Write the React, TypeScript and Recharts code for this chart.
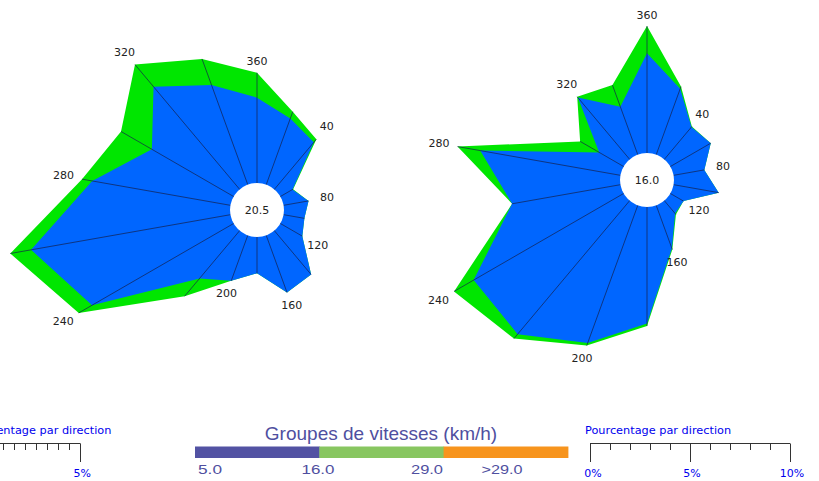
import React from 'react';
import { RadarChart, Radar, PolarAngleAxis, PolarRadiusAxis } from 'recharts';

// wind directions, clockwise from north
const directions = [360, 20, 40, 60, 80, 100, 120, 140, 160, 180, 200, 220, 240, 260, 280, 300, 320, 340];

// % per direction, speed group 5.0 - 16.0 km/h
const leftSlow = [3.88, 3.2, 2.79, 0.64, 1.15, 0.96, 1.15, 2.6, 2.76, 1.65, 2.2, 2.83, 7.43, 9.2, 6.38, 4.29, 6.09, 4.82];
// % per direction, speed group 16.0 - 29.0 km/h
const leftMid = [1.13, 0.33, 0.18, 0.03, 0, 0, 0, 0, 0, 0, 0, 1.06, 0.7, 0.96, 0.47, 1.62, 1.31, 1.26];
const leftCalm = '20.5';

const rightSlow = [4.99, 3.5, 2.11, 2.33, 1.56, 2.29, 0.76, 0.84, 2.29, 5.82, 7.32, 8.71, 8.66, 5.5, 7.12, 1.41, 4.03, 2.55];
const rightMid = [1.36, 0.12, 0.03, 0, 0, 0, 0, 0.06, 0.06, 0.13, 0.14, 0.29, 1.13, 0, 1.15, 1.1, 0.05, 1.15];
const rightCalm = '16.0';

const speedGroups = ['5.0', '16.0', '29.0', '>29.0'];
const speedColors = ['#5252a3', '#88c660', '#f7941d'];

const HOLE = 27;
const BLUE = '#0066ff';
const GREEN = '#00e600';

function buildRows(slow: number[], mid: number[]) {
  return directions.map((dir, i) => ({
    dir,
    slow: slow[i],
    total: slow[i] + mid[i],
  }));
}

function Spokes(props: any) {
  const { points, calm } = props;
  if (!points || !points.length) return null;
  const cx = points[0].cx;
  const cy = points[0].cy;
  return (
    <g>
      {points.map((p: any, i: number) => (
        <line key={'s' + i} x1={cx} y1={cy} x2={p.x} y2={p.y} stroke="#14204a" strokeWidth={0.7} />
      ))}
      <circle cx={cx} cy={cy} r={HOLE} fill="#fff" />
      <text
        x={cx}
        y={cy}
        textAnchor="middle"
        dominantBaseline="central"
        fontFamily="DejaVu Sans"
        fontSize={11}
        fill="#222"
      >
        {calm}
      </text>
      {points.map((p: any, i: number) => {
        const dir = directions[i];
        if (dir % 40 !== 0) return null;
        const a = (dir * Math.PI) / 180;
        const ux = Math.sin(a);
        const uy = -Math.cos(a);
        const d = 11 + 8 * Math.abs(ux);
        return (
          <text
            key={'l' + i}
            x={p.x + ux * d}
            y={p.y + uy * d}
            textAnchor="middle"
            dominantBaseline="central"
            fontFamily="DejaVu Sans"
            fontSize={11}
            fill="#222"
          >
            {dir}
          </text>
        );
      })}
    </g>
  );
}

function Rose({ slow, mid, calm, width, cx, cy, pxPerPct }: any) {
  const rows = buildRows(slow, mid);
  const maxPct = 11;
  return (
    <RadarChart
      width={width}
      height={481}
      cx={cx}
      cy={cy}
      innerRadius={HOLE}
      outerRadius={HOLE + pxPerPct * maxPct}
      startAngle={90}
      endAngle={-270}
      data={rows}
      margin={{ top: 0, right: 0, bottom: 0, left: 0 }}
    >
      <PolarAngleAxis dataKey="dir" tick={false} axisLine={false} tickLine={false} />
      <PolarRadiusAxis type="number" domain={[0, maxPct]} tick={false} axisLine={false} tickLine={false} />
      <Radar dataKey="total" fill={GREEN} fillOpacity={1} stroke="none" isAnimationActive={false} />
      <Radar dataKey="slow" fill={BLUE} fillOpacity={1} stroke="none" isAnimationActive={false} />
      <Radar
        dataKey="total"
        fill="none"
        stroke="none"
        isAnimationActive={false}
        shape={(p: any) => <Spokes {...p} calm={calm} />}
      />
    </RadarChart>
  );
}

function PctScale({ x0, pxPerPct, maxPct, step, majors, labels }: any) {
  const ticks: number[] = [];
  for (let v = 0; v <= maxPct + 1e-6; v += step) ticks.push(Math.round(v * 100) / 100);
  const y = 443.5;
  return (
    <g>
      <text x={x0 - 5} y={434} fontFamily="DejaVu Sans" fontSize={11.3} fill="#0000ee">
        Pourcentage par direction
      </text>
      <line x1={x0} y1={y} x2={x0 + maxPct * pxPerPct} y2={y} stroke="#333" strokeWidth={1} />
      {ticks.map((v) => {
        const x = Math.round(x0 + v * pxPerPct) + 0.5;
        const major = majors.includes(v);
        return <line key={v} x1={x} y1={y} x2={x} y2={major ? 462 : 450} stroke="#333" strokeWidth={1} />;
      })}
      {labels.map((v: number) => (
        <text
          key={'t' + v}
          x={x0 + v * pxPerPct + (v === 0 ? 3 : 2)}
          y={477}
          textAnchor="middle"
          fontFamily="DejaVu Sans"
          fontSize={11}
          fill="#0000ee"
        >
          {v + '%'}
        </text>
      ))}
    </g>
  );
}

function SpeedLegend() {
  const left = 195;
  const segW = 124.3;
  const labelX = [210, 318, 427, 502];
  const labelW = [24, 33, 32, 41];
  return (
    <g>
      <text x={381} y={440} textAnchor="middle" fontFamily="Liberation Sans" fontSize={19} fill="#4f4f9f">
        Groupes de vitesses (km/h)
      </text>
      {speedColors.map((c, i) => (
        <rect key={c} x={left + i * segW} y={446.5} width={segW + 0.5} height={11.5} fill={c} />
      ))}
      {speedGroups.map((s, i) => (
        <text
          key={s}
          x={labelX[i] - labelW[i] / 2}
          y={473.5}
          fontFamily="Liberation Sans"
          fontSize={13}
          textLength={labelW[i]}
          lengthAdjust="spacingAndGlyphs"
          fill="#4f4f9f"
        >
          {s}
        </text>
      ))}
    </g>
  );
}

export default function App() {
  return (
    <div style={{ position: 'fixed', left: 0, top: 0, width: 819, height: 481, background: '#fff', overflow: 'hidden' }}>
      <div style={{ position: 'absolute', left: 0, top: 0 }}>
        <Rose slow={leftSlow} mid={leftMid} calm={leftCalm} width={430} cx={257} cy={210} pxPerPct={22} />
      </div>
      <div style={{ position: 'absolute', left: 420, top: 0 }}>
        <Rose slow={rightSlow} mid={rightMid} calm={rightCalm} width={399} cx={227} cy={180} pxPerPct={20} />
      </div>
      <svg width={819} height={481} style={{ position: 'absolute', left: 0, top: 0, pointerEvents: 'none' }}>
        <PctScale x0={-29.7} pxPerPct={22} maxPct={5} step={0.5} majors={[5]} labels={[5]} />
        <PctScale x0={590} pxPerPct={20} maxPct={10} step={1} majors={[0, 5, 10]} labels={[0, 5, 10]} />
        <SpeedLegend />
      </svg>
    </div>
  );
}
